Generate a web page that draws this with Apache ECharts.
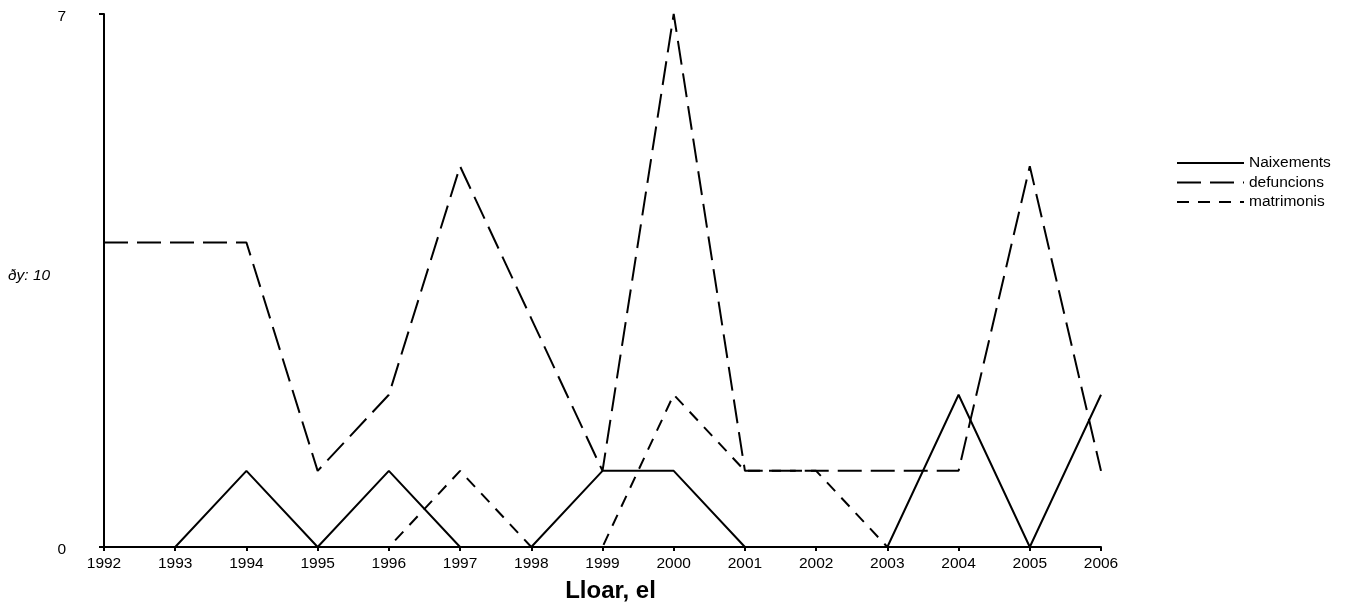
<!DOCTYPE html>
<html>
<head>
<meta charset="utf-8">
<script src="https://cdn.jsdelivr.net/npm/echarts@6/dist/echarts.min.js"></script>
<style>html,body{margin:0;padding:0;background:#fff}#c{width:1351px;height:610px}</style>
</head>
<body>
<div id="c"></div>
<script>
const years = ['1992','1993','1994','1995','1996','1997','1998','1999','2000','2001','2002','2003','2004','2005','2006'];
const naixements = [0,0,1,0,1,0,0,1,1,0,0,0,2,0,2];
const defuncions = [4,4,4,1,2,5,3,1,7,1,1,1,1,5,1];
const matrimonis = [0,0,0,0,0,1,0,0,2,1,1,0,0,0,0];
const yTicks = [0,7];

const chart = echarts.init(document.getElementById('c'));
const font = 'Liberation Sans, Arial, sans-serif';
function ser(name, data, type) {
  return {
    name: name, type: 'line', data: data, symbol: 'none', showSymbol: false, animation: false,
    lineStyle: {color: '#000', width: 2, type: type},
    itemStyle: {color: '#000'},
    z: 3
  };
}
chart.setOption({
  animation: false,
  backgroundColor: '#fff',
  grid: {left: 104, right: 250, top: 14, bottom: 63, containLabel: false},
  legend: {
    orient: 'vertical', left: 1171, top: 149, itemGap: 1.5,
    itemWidth: 67, itemHeight: 14,
    itemStyle: {opacity: 0},
    textStyle: {fontFamily: font, fontSize: 15.5, color: '#000', lineHeight: 18},
    data: ['Naixements','defuncions','matrimonis']
  },
  xAxis: {
    type: 'category', data: years, boundaryGap: false,
    name: 'Lloar, el', nameLocation: 'middle', nameGap: 32,
    nameTextStyle: {fontFamily: font, fontSize: 24, fontWeight: 'bold', color: '#000', padding: [0,0,0,16]},
    axisLine: {lineStyle: {color: '#000', width: 2}},
    axisTick: {show: true, length: 4, lineStyle: {color: '#000', width: 2}, alignWithLabel: true},
    axisLabel: {fontFamily: font, fontSize: 15.5, color: '#000', margin: 9, interval: 0},
    splitLine: {show: false}
  },
  yAxis: {
    type: 'value', min: 0, max: 7, interval: 7,
    axisLine: {show: true, lineStyle: {color: '#000', width: 2}},
    axisTick: {show: true, length: 5, lineStyle: {color: '#000', width: 2}},
    axisLabel: {fontFamily: font, fontSize: 15.5, color: '#000', margin: 38, lineHeight: 5, verticalAlign: 'top',
      formatter: v => yTicks.includes(v) ? String(v) : ''},
    splitLine: {show: false}
  },
  graphic: [{
    type: 'text', left: 8, top: 268,
    style: {text: 'ðy: 10', font: 'italic 15.5px ' + font, fill: '#000'}
  }],
  series: [
    ser('Naixements', naixements, 'solid'),
    ser('defuncions', defuncions, [24, 9]),
    ser('matrimonis', matrimonis, [12, 9])
  ]
});
</script>
</body>
</html>
